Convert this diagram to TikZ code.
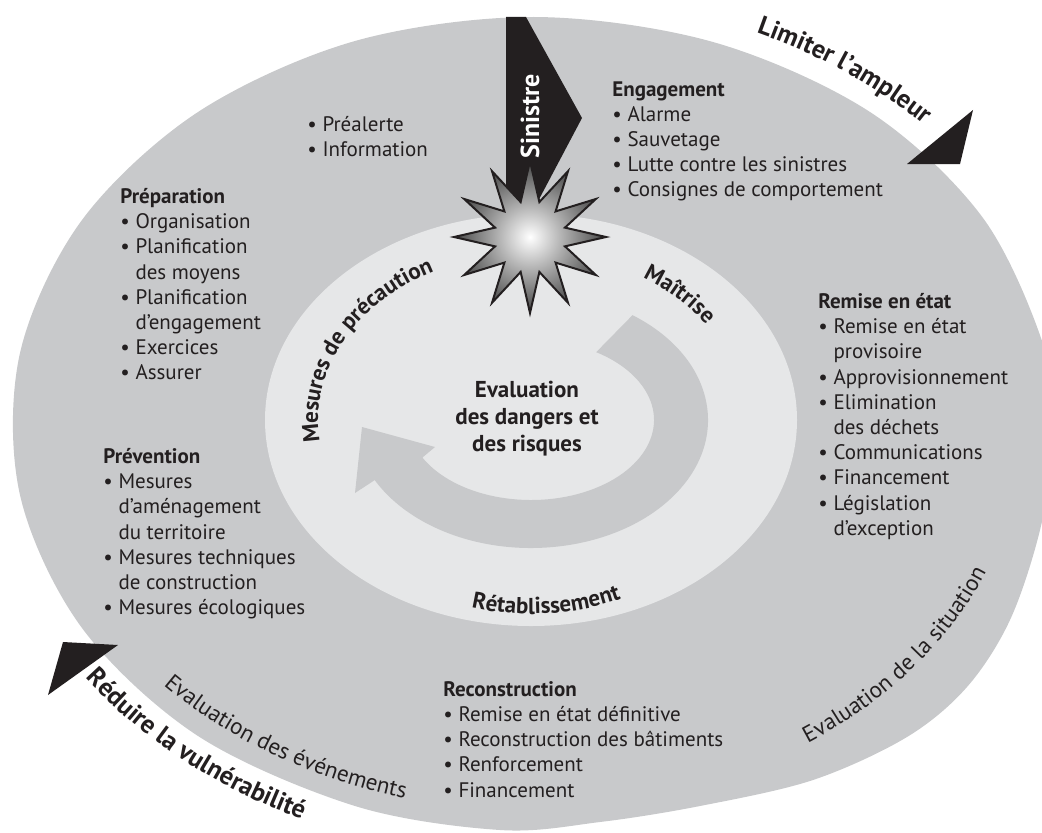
\documentclass[tikz,border=0pt]{standalone}
\usepackage{fontspec}
\setmainfont{PT Sans}
\usetikzlibrary{calc,positioning,shapes.geometric,decorations.text}

\definecolor{fondext}{RGB}{200,201,203}
\definecolor{fondint}{RGB}{230,231,232}
\definecolor{encre}{RGB}{35,31,32}

\tikzset{
	bloc/.style={anchor=north west, inner sep=0pt, align=left, text=encre,
		font=\fontsize{10.5}{12.6}\selectfont},
	centre/.style={align=center, inner sep=0pt, text=encre,
		font=\fontsize{11.5}{13.5}\selectfont\bfseries},
	eclat/.style={star, star points=12, star point ratio=2.1, minimum size=76pt,
		inner sep=0pt, draw=encre, line width=1pt, shading=radial,
		inner color=white, outer color=gray!55!black},
	courbe/.style={decorate, decoration={text along path, text align=center,
		text color=encre, text={#1}}},
}
\newcommand{\puce}{\textbullet\ }
\newcommand{\suite}{\phantom{\textbullet\ }}

\begin{document}
\begin{tikzpicture}[x=0.5pt,y=0.5pt]
	\useasboundingbox (0,0) rectangle (1042,832);
	\coordinate (c) at (534,408);
	\coordinate (m) at (531,412);

	% grand anneau
	\fill[fondext] plot[smooth cycle, tension=0.55] coordinates {
		(534,815) (713,790) (870,720) (983,614) (1045,482) (1054,392)
		(1040,302) (1010,212) (967,145) (907,95) (813,52) (700,26)
		(600,10) (500,2) (355,26) (198,96) (82,204) (20,337)
		(20,479) (82,612) (198,720) (355,791)};

	% disque central et fleche circulaire
	\fill[fondint] (m) ellipse[x radius=266, y radius=206];
	\fill[fondext] ($(m)+(55:177 and 128)$)
		arc[start angle=55, end angle=-152, x radius=177, y radius=128]
		-- (355,339) -- (362,405) -- (435,385)
		-- ($(m)+(-152:123 and 80)$)
		arc[start angle=-152, end angle=58, x radius=123, y radius=80] -- cycle;

	% fleches noires
	\fill[encre] (506,815) -- (526,815) -- (582,714) -- (527,610) -- (506,610) -- cycle;
	\fill[encre] (973,722) -- (907,668) -- (960,668) -- cycle;
	\fill[encre] (63,190) -- (118,187) -- (48,137) -- cycle;

	\node[rotate=90, text=white, font=\fontsize{13}{13}\selectfont\bfseries] (sinistre) at (530,716) {Sinistre};
	\node[eclat] (eclat) at (530,595) {};

	\node[centre] (dangers) at (527,413) {Evaluation\\des dangers et\\des risques};

	% listes
	\node[bloc] (alerte) at (307,716) {\puce Préalerte\\\puce Information};
	\node[bloc] (engagement) at (612,751) {\textbf{Engagement}\\\puce Alarme\\\puce Sauvetage\\
		\puce Lutte contre les sinistres\\\puce Consignes de comportement};
	\node[bloc] (preparation) at (120,644) {\textbf{Préparation}\\\puce Organisation\\
		\puce Planification\\\suite des moyens\\\puce Planification\\\suite d’engagement\\
		\puce Exercices\\\puce Assurer};
	\node[bloc] (prevention) at (103,384) {\textbf{Prévention}\\\puce Mesures\\
		\suite d’aménagement\\\suite du territoire\\\puce Mesures techniques\\
		\suite de construction\\\puce Mesures écologiques};
	\node[bloc] (remise) at (818,539) {\textbf{Remise en état}\\\puce Remise en état\\
		\suite provisoire\\\puce Approvisionnement\\\puce Elimination\\\suite des déchets\\
		\puce Communications\\\puce Financement\\\puce Législation\\\suite d’exception};
	\node[bloc] (reconstruction) at (443,151) {\textbf{Reconstruction}\\
		\puce Remise en état définitive\\\puce Reconstruction des bâtiments\\
		\puce Renforcement\\\puce Financement};

	% textes en arc
	\path[courbe={|\fontsize{13}{13}\selectfont\bfseries|Limiter l’ampleur}]
		($(c)+(74.6:544 and 429)$) arc[start angle=74.6, end angle=34.6, x radius=544, y radius=429];
	\path[courbe={|\fontsize{13}{13}\selectfont\bfseries|Réduire la vulnérabilité}]
		($(c)+(210:551 and 436)$) arc[start angle=210, end angle=250, x radius=551, y radius=436];
	\path[courbe={|\fontsize{11.5}{11.5}\selectfont|Evaluation des événements}]
		($(c)+(218:502 and 387)$) arc[start angle=218, end angle=259, x radius=502, y radius=387];
	\path[courbe={|\fontsize{11.5}{11.5}\selectfont|Evaluation de la situation}]
		($(c)+(-60:490 and 385)$) arc[start angle=-60, end angle=-18, x radius=490, y radius=385];
	\path[courbe={|\fontsize{11.5}{11.5}\selectfont\bfseries|Mesures de précaution}]
		($(m)+(190:213 and 167)$) arc[start angle=190, end angle=115, x radius=213, y radius=167];
	\path[courbe={|\fontsize{11.5}{11.5}\selectfont\bfseries|Maîtrise}]
		($(m)+(66:213 and 167)$) arc[start angle=66, end angle=26, x radius=213, y radius=167];
	\path[courbe={|\fontsize{11.5}{11.5}\selectfont\bfseries|Rétablissement}]
		($(m)+(254:232 and 194)$) arc[start angle=254, end angle=294, x radius=232, y radius=194];
\end{tikzpicture}
\end{document}
